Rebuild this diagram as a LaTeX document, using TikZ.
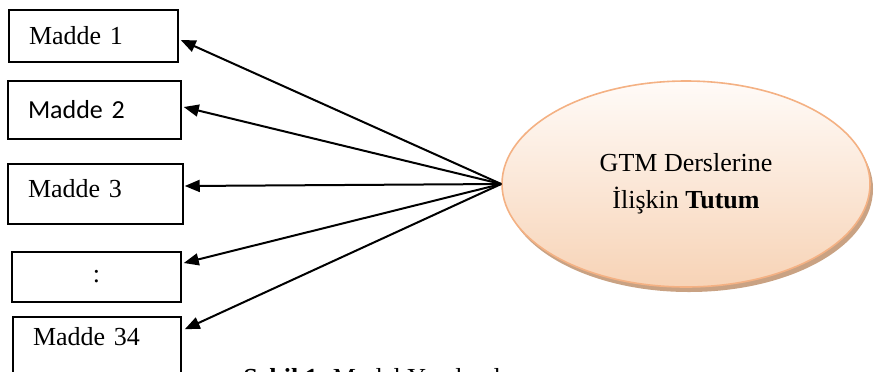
\documentclass[tikz,border=0pt]{standalone}
\usepackage{fontspec}
\setmainfont{Liberation Serif}
\newfontfamily\calibri{Carlito}
\usetikzlibrary{arrows.meta,shapes.geometric,shadows}

\definecolor{rimorange}{HTML}{F4B183}
\definecolor{peachtop}{HTML}{FFFBF8}
\definecolor{peachbot}{HTML}{F7D3B6}
\definecolor{shadowtan}{HTML}{C9A283}

\begin{document}
\begin{tikzpicture}[
  x=0.5pt, y=-0.5pt,
  font=\fontsize{13}{17.5}\selectfont,
  item/.style={draw, line width=0.75pt, inner xsep=10pt, inner ysep=0pt, align=left, text width=#1},
  attitude/.style={ellipse, draw=rimorange, line width=0.8pt, top color=peachtop, bottom color=peachbot,
    minimum width=184pt, minimum height=103pt, inner sep=0pt, align=center,
    drop shadow={shadow xshift=1.5pt, shadow yshift=-2.5pt, fill=shadowtan, opacity=1}},
  arrow/.style={-{Triangle[length=7.5pt,width=6pt]}, line width=1pt}
]
\useasboundingbox (0,0) rectangle (876,371);

% items
\node[item=64.5pt, minimum height=26pt] (m1) at (93.5,36) {Madde 1};
\node[item=66.5pt, minimum height=29pt] (m2) at (94.5,110) {\calibri Madde 2};
\node[item=67.5pt, minimum height=30pt, text depth=6pt] (m3) at (95.5,194) {Madde 3};
\node[item=64.5pt, minimum height=25pt, align=center] (m4) at (96.5,277) {:};
\node[item=64pt, minimum height=31.5pt, text depth=12pt] (m5) at (97,348.5) {Madde 34};

% latent
\node[attitude] (tutum) at (686,184) {GTM Derslerine\\[1pt]İlişkin \textbf{Tutum}};

\draw[arrow] (tutum.west) -- ([shift={(1pt,-2pt)}]m1.east);
\draw[arrow] (tutum.west) -- ([shift={(1pt,1.5pt)}]m2.east);
\draw[arrow] (tutum.west) -- ([shift={(0.5pt,4pt)}]m3.east);
\draw[arrow] (tutum.west) -- ([shift={(1pt,7pt)}]m4.east);
\draw[arrow] (tutum.west) -- ([shift={(1.5pt,-6.5pt)}]m5.north east);

\node[anchor=base west, inner sep=0pt] (caption) at (243,386) {\textbf{Şekil 1.} Model Yapılandırması};
\end{tikzpicture}
\end{document}
